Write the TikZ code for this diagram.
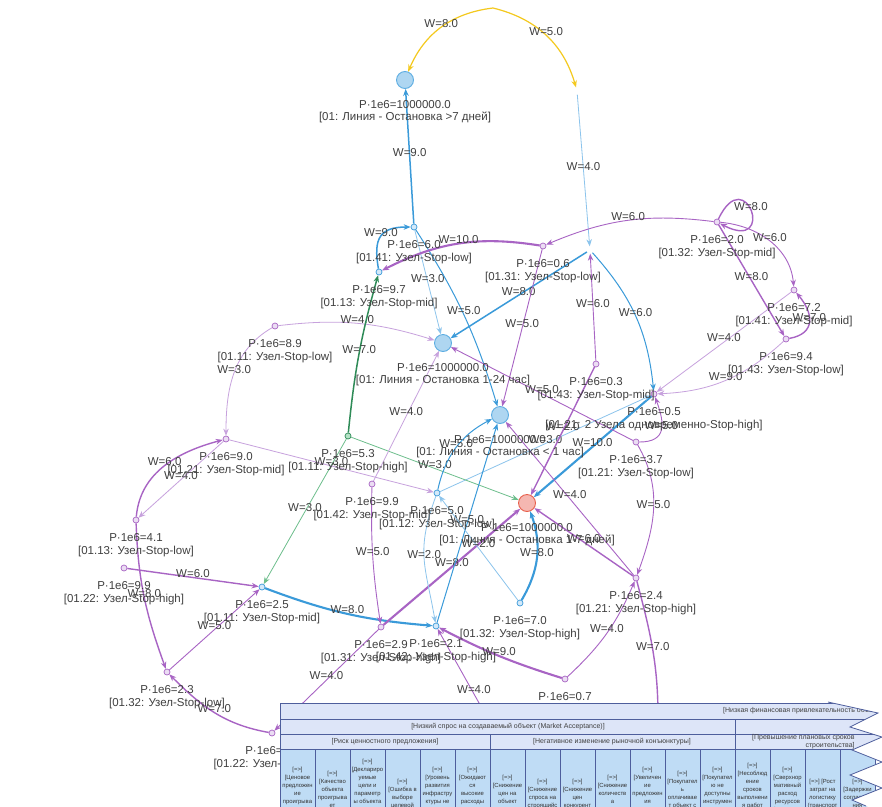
\documentclass[tikz,border=0pt]{standalone}
\usepackage{fontspec}
\setmainfont{Liberation Sans}
\usetikzlibrary{arrows.meta,positioning}
\definecolor{txtc}{HTML}{404040}
\definecolor{ycol}{HTML}{F4C91E}
\definecolor{bcol}{HTML}{3A9AD9}
\definecolor{lbcol}{HTML}{8CC4EC}
\definecolor{pcol}{HTML}{A864C4}
\definecolor{lpcol}{HTML}{C7A2DD}
\definecolor{gcol}{HTML}{2E8B57}
\definecolor{lgcol}{HTML}{6DBE8C}
\definecolor{bigfill}{HTML}{AED6F1}
\definecolor{bigdraw}{HTML}{5DADE2}
\definecolor{redfill}{HTML}{F5B7B1}
\definecolor{reddraw}{HTML}{E8604C}
\definecolor{pfill}{HTML}{EBDDF3}
\definecolor{bfill}{HTML}{D4E9F9}
\definecolor{gfill}{HTML}{B5E2C6}
\definecolor{tabhead}{HTML}{DDE5F8}
\definecolor{tabcell}{HTML}{BFDCF5}
\definecolor{tabline}{HTML}{4E5E9C}
\newcommand\lblf{\fontsize{11.5}{12.3}\selectfont}
\newcommand\tabf{\fontsize{7}{8}\selectfont}
\newcommand\cellf{\fontsize{5.9}{8}\selectfont}
\begin{document}
\begin{tikzpicture}[x=1pt,y=-1pt,
  bignode/.style={circle, minimum size=17pt, inner sep=0pt, line width=0.9pt},
  bigb/.style={bignode, fill=bigfill, draw=bigdraw},
  bigr/.style={bignode, fill=redfill, draw=reddraw},
  smallnode/.style={circle, minimum size=6pt, inner sep=0pt, line width=0.7pt},
  smp/.style={smallnode, fill=pfill, draw=pcol},
  smb/.style={smallnode, fill=bfill, draw=bcol},
  smg/.style={smallnode, fill=gfill, draw=gcol},
  hid/.style={circle, minimum size=7pt, inner sep=0pt},
  nlab/.style={font=\lblf, text=txtc, align=center, inner sep=0pt},
  wlab/.style={font=\lblf, text=txtc, inner sep=0pt, yshift=4pt},
  myarr/.style={-{Stealth[length=7pt,width=5.5pt]}},
  eyel/.style={myarr, draw=ycol, line width=1.2pt},
  eblue1/.style={myarr, draw=bcol, line width=1.0pt},
  eblue2/.style={myarr, draw=bcol, line width=1.5pt},
  eblue3/.style={myarr, draw=bcol, line width=2.1pt},
  elblue/.style={myarr, draw=lbcol, line width=0.8pt},
  epur1/.style={myarr, draw=pcol, line width=0.9pt},
  epur2/.style={myarr, draw=pcol, line width=1.4pt},
  epur3/.style={myarr, draw=pcol, line width=2.1pt},
  elpur/.style={myarr, draw=lpcol, line width=0.8pt},
  egrn/.style={myarr, draw=gcol, line width=1.5pt},
  elgrn/.style={myarr, draw=lgcol, line width=0.8pt},
  thead/.style={fill=tabhead, draw=tabline, line width=0.6pt},
  tcell/.style={fill=tabcell, draw=tabline, line width=0.6pt},
  ttxt/.style={font=\tabf, text=black!75, inner sep=0pt},
  ctxt/.style={font=\cellf, text=black!80, align=center, inner sep=0pt}
]
\useasboundingbox (0,0) rectangle (882,806);
\fill[white] (0,0) rectangle (882,806);

% ---------- nodes ----------
\coordinate (Y) at (493,8);
\node[hid] (B) at (577,91) {};
\node[hid] (J1) at (590,250) {};
\node[hid] (H1) at (512,762) {};
\node[hid] (H2) at (658,725) {};
\node[bigb] (A7) at (405,80) {};
\node[bigb] (A124) at (443,343) {};
\node[bigb] (A1) at (500,415) {};
\node[bigr] (RED) at (527,503) {};
\node[smb] (n0141) at (414,227) {};
\node[smb] (n0113) at (379,272) {};
\node[smp] (n0131) at (543,246) {};
\node[smp] (n0111l) at (275,326) {};
\node[smp] (n0132m) at (717,222) {};
\node[smp] (n0141m) at (794,290) {};
\node[smp] (n0143l) at (786,339) {};
\node[smp] (n0143m) at (596,364) {};
\node[smp] (n0121t) at (654,394) {};
\node[smp] (n0121l) at (636,442) {};
\node[smg] (n0111h) at (348,436) {};
\node[smp] (n0121m) at (226,439) {};
\node[smp] (n0142m) at (372,484) {};
\node[smb] (n0112l) at (437,493) {};
\node[smp] (n0113l) at (136,520) {};
\node[smp] (n0122h) at (124,568) {};
\node[smb] (n0111m) at (262,587) {};
\node[smp] (n0132l) at (167,672) {};
\node[smp] (n0122x) at (272,733) {};
\node[smp] (n0131h) at (381,627) {};
\node[smb] (n0132h2) at (436,626) {};
\node[smb] (n0132h) at (520,603) {};
\node[smp] (n0121h) at (636,578) {};
\node[smp] (n07) at (565,679) {};

% ---------- edges ----------
\draw[eyel] (Y) to[bend right=30] node[wlab]{W=8.0} (A7);
\draw[eyel] (Y) to[bend left=30] node[wlab]{W=5.0} (B);
\draw[elblue] (B) -- node[wlab]{W=4.0} (J1);
\draw[eblue2] (n0141) -- node[wlab]{W=9.0} (A7);
\draw[eblue2] (n0113) to[out=100,in=180,looseness=1.5] node[wlab]{W=9.0} (n0141);
\draw[elblue] (n0141) -- node[wlab]{W=3.0} (A124);
\draw[eblue1] (n0141) to[bend left=8] node[wlab]{W=5.0} (A1);
\draw[epur3] (n0131) to[bend right=18] node[wlab]{W=10.0} (n0113);
\draw[epur1] (n0132m) to[bend right=15] node[wlab]{W=6.0} (n0131);
\draw[eblue2] (J1) -- node[wlab]{W=8.0} (A124);
\draw[epur1] (n0143m) -- node[wlab]{W=6.0} (J1);
\draw[eblue1] (J1) to[bend left=18] node[wlab]{W=6.0} (n0121t);
\draw[epur1] (n0131) -- node[wlab]{W=5.0} (A1);
\draw[epur2] (n0132m) .. controls (746,161) and (777,253) .. node[wlab]{W=8.0} (n0132m);
\draw[epur1] (n0132m) to[out=-5,in=95] node[wlab]{W=6.0} (n0141m);
\draw[epur2] (n0132m) -- node[wlab]{W=8.0} (n0143l);
\draw[epur2] (n0143l) to[out=10,in=-50,looseness=1.5] node[wlab]{W=7.0} (n0141m);
\draw[elpur] (n0141m) -- node[wlab]{W=4.0} (n0121t);
\draw[elpur] (n0143l) to[bend left=20] node[wlab]{W=9.0} (n0121t);
\draw[epur1] (n0121l) to[out=0,in=-70,looseness=1.5] node[wlab]{W=5.0} (n0121t);
\draw[eblue3] (n0121t) -- node[wlab]{W=10.0} (RED);
\draw[elblue] (n0112l) -- node[wlab]{W=3.0} (n0121t);
\draw[epur2] (n0143m) -- node[wlab]{W=2.0} (RED);
\draw[elpur] (n0111l) to[bend left=12] node[wlab]{W=4.0} (A124);
\draw[elpur] (n0111l) to[out=-150,in=90] node[wlab]{W=3.0} (n0121m);
\draw[egrn] (n0111h) to[bend left=5] node[wlab]{W=7.0} (n0113);
\draw[elgrn] (n0111h) -- node[wlab]{W=3.0} (RED);
\draw[elgrn] (n0111h) -- node[wlab]{W=3.0} (n0111m);
\draw[elpur] (n0121m) -- node[wlab]{W=3.0} (n0112l);
\draw[elpur] (n0142m) -- node[wlab]{W=4.0} (A124);
\draw[epur2] (n0113l) to[out=85,in=195] node[wlab]{W=6.0} (n0121m);
\draw[elpur] (n0121m) -- node[wlab]{W=4.0} (n0113l);
\draw[epur2] (n0113l) to[out=-88,in=110] node[wlab]{W=8.0} (n0132l);
\draw[epur2] (n0122h) -- node[wlab]{W=6.0} (n0111m);
\draw[epur1] (n0132l) -- node[wlab]{W=5.0} (n0111m);
\draw[epur2] (n0122x) to[out=170,in=-45] node[wlab]{W=7.0} (n0132l);
\draw[eblue3] (n0111m) to[bend right=8] node[wlab]{W=8.0} (n0132h2);
\draw[epur1] (n0142m) to[bend right=5] node[wlab]{W=5.0} (n0131h);
\draw[epur3] (n0131h) -- node[wlab]{W=8.0} (RED);
\draw[eblue1] (n0132h2) -- node[wlab]{W=5.0} (A1);
\draw[eblue1] (n0112l) to[bend left=25] node[wlab]{W=5.0} (A1);
\draw[elblue] (n0112l) to[out=-110,in=100,looseness=1.2] node[wlab]{W=2.0} (n0132h2);
\draw[elblue] (n0132h) -- node[wlab]{W=2.0} (n0112l);
\draw[eblue3] (n0132h) to[bend right=25] node[wlab]{W=8.0} (RED);
\draw[epur2] (n0121h) -- node[wlab]{W=6.0} (RED);
\draw[epur3] (n07) to[bend left=5] node[wlab]{W=9.0} (n0132h2);
\draw[epur1] (n07) to[bend right=12] node[wlab]{W=4.0} (n0121h);
\draw[epur1] (H1) -- node[wlab]{W=4.0} (n0132h2);
\draw[epur1] (n0121l) to[out=-60,in=70] node[wlab]{W=5.0} (n0121h);
\draw[epur2] (n0121h) to[out=-75,in=90] node[wlab]{W=7.0} (H2);
\draw[epur1] (n0131h) -- node[wlab]{W=4.0} (n0122x);
\draw[epur1] (n0121h) -- node[wlab]{W=4.0} (A1);
\draw[epur1] (n0121l) -- node[wlab]{W=5.0} (A124);

% ---------- node labels ----------
\node[nlab, below=20pt of A7.center] (LA7) {P·1e6=1000000.0\\{[01: Линия - Остановка >7 дней]}};
\node[nlab, below=20pt of A124.center] (LA124) {P·1e6=1000000.0\\{[01: Линия - Остановка 1-24 час]}};
\node[nlab, below=20pt of A1.center] (LA1) {P·1e6=1000000.0\\{[01: Линия - Остановка < 1 час]}};
\node[nlab, below=20pt of RED.center] (LRED) {P·1e6=1000000.0\\{[01: Линия - Остановка 1-7 дней]}};
\node[nlab, below=13.5pt of n0141.center] (L0141) {P·1e6=6.0\\{[01.41: Узел-Stop-low]}};
\node[nlab, below=13.5pt of n0113.center] (L0113) {P·1e6=9.7\\{[01.13: Узел-Stop-mid]}};
\node[nlab, below=13.5pt of n0131.center] (L0131) {P·1e6=0.6\\{[01.31: Узел-Stop-low]}};
\node[nlab, below=13.5pt of n0111l.center] (L0111l) {P·1e6=8.9\\{[01.11: Узел-Stop-low]}};
\node[nlab, below=13.5pt of n0132m.center] (L0132m) {P·1e6=2.0\\{[01.32: Узел-Stop-mid]}};
\node[nlab, below=13.5pt of n0141m.center] (L0141m) {P·1e6=7.2\\{[01.41: Узел-Stop-mid]}};
\node[nlab, below=13.5pt of n0143l.center] (L0143l) {P·1e6=9.4\\{[01.43: Узел-Stop-low]}};
\node[nlab, below=13.5pt of n0143m.center] (L0143m) {P·1e6=0.3\\{[01.43: Узел-Stop-mid]}};
\node[nlab, below=13.5pt of n0121t.center] (L0121t) {P·1e6=0.5\\{[01.21: 2 Узела одновременно-Stop-high]}};
\node[nlab, below=13.5pt of n0121l.center] (L0121l) {P·1e6=3.7\\{[01.21: Узел-Stop-low]}};
\node[nlab, below=13.5pt of n0111h.center] (L0111h) {P·1e6=5.3\\{[01.11: Узел-Stop-high]}};
\node[nlab, below=13.5pt of n0121m.center] (L0121m) {P·1e6=9.0\\{[01.21: Узел-Stop-mid]}};
\node[nlab, below=13.5pt of n0142m.center] (L0142m) {P·1e6=9.9\\{[01.42: Узел-Stop-mid]}};
\node[nlab, below=13.5pt of n0112l.center] (L0112l) {P·1e6=5.0\\{[01.12: Узел-Stop-low]}};
\node[nlab, below=13.5pt of n0113l.center] (L0113l) {P·1e6=4.1\\{[01.13: Узел-Stop-low]}};
\node[nlab, below=13.5pt of n0122h.center] (L0122h) {P·1e6=9.9\\{[01.22: Узел-Stop-high]}};
\node[nlab, below=13.5pt of n0111m.center] (L0111m) {P·1e6=2.5\\{[01.11: Узел-Stop-mid]}};
\node[nlab, below=13.5pt of n0132l.center] (L0132l) {P·1e6=2.3\\{[01.32: Узел-Stop-low]}};
\node[nlab, below=13.5pt of n0122x.center] (L0122x) {P·1e6=1.0\\{[01.22: Узел-Stop-mid]}};
\node[nlab, below=13.5pt of n0131h.center] (L0131h) {P·1e6=2.9\\{[01.31: Узел-Stop-high]}};
\node[nlab, below=13.5pt of n0132h2.center] (L0132h2) {P·1e6=2.1\\{[01.42: Узел-Stop-high]}};
\node[nlab, below=13.5pt of n0132h.center] (L0132h) {P·1e6=7.0\\{[01.32: Узел-Stop-high]}};
\node[nlab, below=13.5pt of n0121h.center] (L0121h) {P·1e6=2.4\\{[01.21: Узел-Stop-high]}};
\node[nlab, below=13.5pt of n07.center] (L07) {P·1e6=0.7};

% ---------- table ----------
\filldraw[thead] (280,703) rectangle (900,719);
\filldraw[thead] (280,719) rectangle (735,734);
\filldraw[thead] (735,719) rectangle (900,734);
\filldraw[thead] (280,734) rectangle (490,749);
\filldraw[thead] (490,734) rectangle (735,749);
\filldraw[thead] (735,734) rectangle (900,749);
\foreach \k in {0,...,16} {\filldraw[tcell] ({280+35*\k},749) rectangle ({315+35*\k},815);}
\node[ttxt, anchor=west] (T1) at (723,711) {[Низкая финансовая привлекательность объекта]};
\node[ttxt] (T2) at (508,726.5) {[Низкий спрос на создаваемый объект (Market Acceptance)]};
\node[ttxt] (T3) at (385,741.5) {[Риск ценностного предложения]};
\node[ttxt] (T4) at (612,741.5) {[Негативное изменение рыночной конъюнктуры]};
\node[ttxt, align=right, anchor=north west] (T5) at (752,734.5) {[Превышение плановых сроков\\строительства]};
\node[ctxt] (C1) at (297.5,798) {[=>]\\{[Ценовое}\\предложен\\ие\\проигрыва\\ет\\конкурент\\ам]};
\node[ctxt] (C2) at (332.5,798) {[=>]\\{[Качество}\\объекта\\проигрыва\\ет\\конкурент\\ам]};
\node[ctxt] (C3) at (367.5,798) {[=>]\\{[Деклариро}\\уемые\\цели и\\параметр\\ы объекта\\не\\соответст\\вуют\\рынку]};
\node[ctxt] (C4) at (402.5,798) {[=>]\\{[Ошибка в}\\выборе\\целевой\\аудитории]};
\node[ctxt] (C5) at (437.5,798) {[=>]\\{[Уровень}\\развития\\инфрастру\\ктуры не\\отвечает\\требовани\\ям]};
\node[ctxt] (C6) at (472.5,798) {[=>]\\{[Ожидают}\\ся\\высокие\\расходы\\на\\эксплуата\\цию]};
\node[ctxt] (C7) at (507.5,798) {[=>]\\{[Снижение}\\цен на\\объект\\строитель\\ства]};
\node[ctxt] (C8) at (542.5,798) {[=>]\\{[Снижение}\\спроса на\\строящийс\\я объект]};
\node[ctxt] (C9) at (577.5,798) {[=>]\\{[Снижение}\\цен\\конкурент\\ами]};
\node[ctxt] (C10) at (612.5,798) {[=>]\\{[Снижение}\\количеств\\а\\покупател\\ей]};
\node[ctxt] (C11) at (647.5,798) {[=>]\\{[Увеличен}\\ие\\предложен\\ия\\аналогичн\\ых\\объектов]};
\node[ctxt] (C12) at (682.5,798) {[=>]\\{[Покупател}\\ь\\оплачивае\\т объект с\\опоздание\\м]};
\node[ctxt] (C13) at (717.5,798) {[=>]\\{[Покупател}\\ю не\\доступны\\инструмен\\ты\\финансиро\\вания]};
\node[ctxt] (C14) at (752.5,798) {[=>]\\{[Несоблюд}\\ение\\сроков\\выполнени\\я работ\\(задержки\\в пути,\\поставок)]};
\node[ctxt] (C15) at (787.5,798) {[=>]\\{[Сверхнор}\\мативный\\расход\\ресурсов\\(материал\\ы,\\энергия)]};
\node[ctxt] (C16) at (822.5,798) {[=>] [Рост\\затрат на\\логистику\\(транспорт\\, склады)]};
\node[ctxt] (C17) at (857.5,798) {[=>]\\{[Задержки}\\согласова\\ния\\проекта]};
% zigzag cut on the right
\fill[white] (828,702) -- (878,713) -- (850,727) -- (882,737) -- (852,750) -- (882,762) -- (850,775) -- (882,788) -- (852,800) -- (866,806) -- (900,820) -- (900,690) -- (828,690) -- cycle;
\draw[tabline, line width=0.8pt] (828,702) -- (878,713) -- (850,727) -- (882,737) -- (852,750) -- (882,762) -- (850,775) -- (882,788) -- (852,800) -- (866,806);
\end{tikzpicture}
\end{document}
